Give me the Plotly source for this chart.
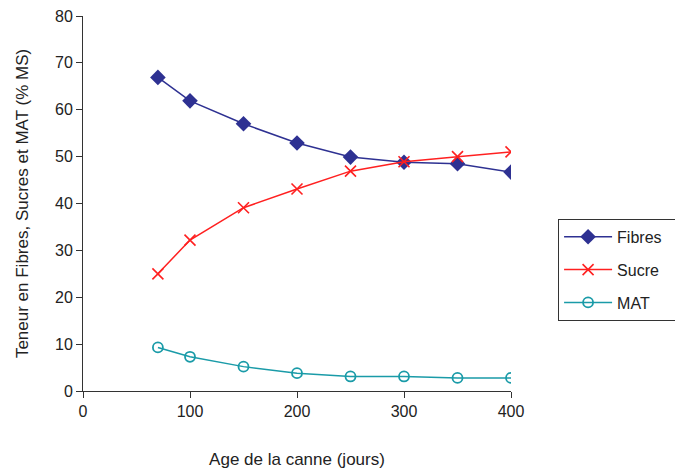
import plotly.graph_objects as go

age = [70, 100, 150, 200, 250, 300, 350, 400]
fibres = [66.9, 61.9, 57.0, 52.9, 49.9, 48.8, 48.5, 46.7]
sucre = [25.0, 32.2, 39.1, 43.1, 46.9, 48.9, 50.0, 51.0]
mat = [9.3, 7.3, 5.2, 3.8, 3.1, 3.1, 2.8, 2.8]

fig = go.Figure()
fig.add_trace(go.Scatter(x=age, y=fibres, name="Fibres\u00a0\u00a0", mode="lines+markers", legendgroup="a",
                         line=dict(color="#2E3192", width=1.5),
                         marker=dict(symbol="diamond", size=12, color="#2E3192")))
fig.add_trace(go.Scatter(x=age, y=sucre, name="Sucre", mode="lines+markers", legendgroup="b",
                         line=dict(color="#FF2020", width=1.5),
                         marker=dict(symbol="x-thin", size=11, color="#FF2020",
                                     line=dict(color="#FF2020", width=1.6))))
fig.add_trace(go.Scatter(x=age, y=mat, name="MAT", mode="lines+markers", legendgroup="c",
                         line=dict(color="#1A9BA8", width=1.5),
                         marker=dict(symbol="circle-open", size=10, color="#1A9BA8",
                                     line=dict(width=1.8))))

fig.update_layout(
    width=683, height=471,
    margin=dict(l=75, r=180, t=8, b=88),
    plot_bgcolor="white", paper_bgcolor="white",
    font=dict(family="Liberation Sans, Arial, sans-serif", size=16, color="#222"),
    showlegend=True,
    legend=dict(x=1.11, y=0.323, xanchor="left", yanchor="middle",
                bordercolor="#333", borderwidth=1, font=dict(size=16),
                traceorder="grouped", tracegroupgap=9, itemwidth=48),
    xaxis=dict(range=[0, 400], tickvals=[0, 100, 200, 300, 400],
               showline=True, linecolor="#333", linewidth=1,
               ticks="outside", ticklen=6, tickcolor="#333",
               showgrid=False, zeroline=False, ticklabeloverflow="allow", automargin=False,
               title=dict(text="Age de la canne (jours)", font=dict(size=17), standoff=33)),
    yaxis=dict(range=[0, 80], tickvals=list(range(0, 81, 10)),
               showline=True, linecolor="#333", linewidth=1,
               ticks="outside", ticklen=6, tickcolor="#333",
               showgrid=False, zeroline=False, ticklabeloverflow="allow", automargin=False,
               title=dict(text="Teneur en Fibres, Sucres et MAT (% MS)", font=dict(size=17), standoff=22)),
)

fig.write_html("out.html")
